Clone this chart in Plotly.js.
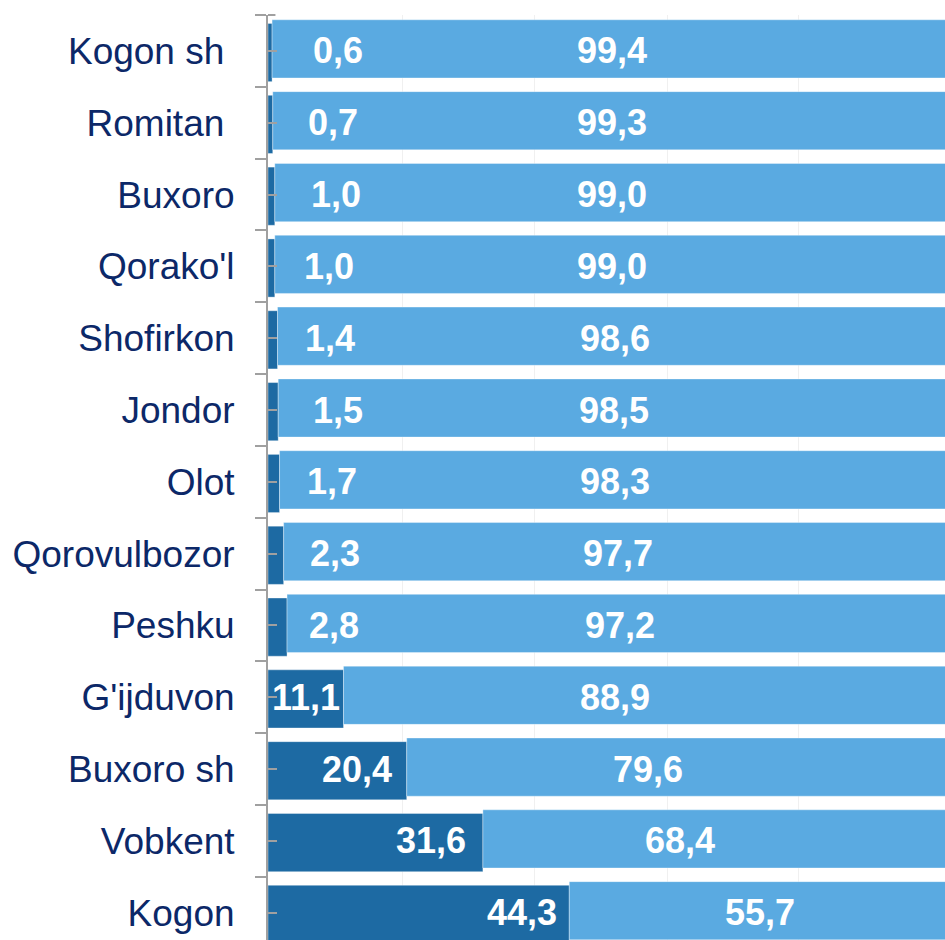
<!DOCTYPE html>
<html>
<head>
<meta charset="utf-8">
<script src="https://cdn.plot.ly/plotly-3.0.1.min.js"></script>
<style>html,body{margin:0;padding:0;background:#fff;}#chart{width:945px;height:940px;}</style>
</head>
<body>
<div id="chart"></div>
<script>
// Categories (top to bottom)
const categories = ["Kogon sh\u00a0", "Romitan\u00a0", "Buxoro", "Qorako'l", "Shofirkon", "Jondor", "Olot",
  "Qorovulbozor", "Peshku", "G'ijduvon", "Buxoro sh", "Vobkent", "Kogon"];
// Series values (percent)
const darkValues = [0.6, 0.7, 1.0, 1.0, 1.4, 1.5, 1.7, 2.3, 2.8, 11.1, 20.4, 31.6, 44.3];
const lightValues = [99.4, 99.3, 99.0, 99.0, 98.6, 98.5, 98.3, 97.7, 97.2, 88.9, 79.6, 68.4, 55.7];
// Label placement (x in axis units)
const darkLabelX = [10.3, 9.6, 10.0, 9.0, 9.1, 10.3, 9.4, 9.9, 9.7, 5.6, 13.1, 24.0, 37.4];
const lightLabelX = [50.6, 50.6, 50.6, 50.6, 51.0, 50.9, 51.0, 51.5, 51.8, 51.0, 55.9, 60.6, 72.4];
const gridVals = [19.85, 39.26, 58.68, 77.94];

const DARK = '#1d6aa3', LIGHT = '#5aaae1', NAVY = '#0c2868', GRAY = '#a0a0a0';
const fmt = v => v.toFixed(1).replace('.', ',');
const yRange = [-0.5 + 925 / 71.82, -0.5];

const traces = [
  {type: 'bar', orientation: 'h', y: categories, x: darkValues, width: 0.81, offset: -0.382,
   marker: {color: DARK, line: {color: 'rgba(255,255,255,0.35)', width: 1}}, hoverinfo: 'skip', yaxis: 'y'},
  {type: 'bar', orientation: 'h', y: categories, x: lightValues, base: darkValues, width: 0.81, offset: -0.433,
   marker: {color: LIGHT, line: {color: 'rgba(255,255,255,0.35)', width: 1}}, hoverinfo: 'skip', yaxis: 'y2'}
];

const annotations = [];
categories.forEach((c, i) => {
  annotations.push({x: darkLabelX[i], y: c, xref: 'x', yref: 'y', text: '<b>' + fmt(darkValues[i]) + '</b>', showarrow: false,
    xanchor: 'center', yanchor: 'middle', font: {family: 'Liberation Sans, Arial', size: 36, color: '#ffffff'}});
  annotations.push({x: lightLabelX[i], y: c, xref: 'x', yref: 'y', text: '<b>' + fmt(lightValues[i]) + '</b>', showarrow: false,
    xanchor: 'center', yanchor: 'middle', font: {family: 'Liberation Sans, Arial', size: 36, color: '#ffffff'}});
});

const layout = {
  width: 945, height: 940,
  margin: {l: 268, r: 0, t: 15, b: 0, pad: 0},
  paper_bgcolor: '#ffffff', plot_bgcolor: '#ffffff',
  barmode: 'overlay', showlegend: false,
  font: {family: 'Liberation Sans, Arial', size: 37, color: NAVY},
  xaxis: {range: [0, 99.55], showticklabels: false, ticks: '', zeroline: false, showline: false,
    showgrid: true, gridcolor: '#f0f0f0', gridwidth: 1, tickmode: 'array', tickvals: gridVals, fixedrange: true},
  yaxis: {type: 'category', categoryorder: 'array', categoryarray: categories, range: yRange,
    showline: true, linecolor: GRAY, linewidth: 2, ticks: 'outside', tickson: 'boundaries', ticklen: 11,
    tickcolor: GRAY, tickwidth: 2, showgrid: false, zeroline: false, ticklabelstandoff: 24,
    tickfont: {family: 'Liberation Sans, Arial', size: 37, color: NAVY}, fixedrange: true},
  yaxis2: {type: 'category', categoryorder: 'array', categoryarray: categories, range: yRange,
    overlaying: 'y', side: 'left', showline: false, ticks: 'inside', ticklen: 9, tickcolor: GRAY, tickwidth: 2,
    showticklabels: false, showgrid: false, zeroline: false, fixedrange: true},
  shapes: [{type: 'line', xref: 'paper', yref: 'paper', x0: 0, x1: 0.011, y0: 1, y1: 1,
    line: {color: GRAY, width: 2}}],
  annotations: annotations
};

Plotly.newPlot('chart', traces, layout, {displayModeBar: false, staticPlot: true});
</script>
</body>
</html>
